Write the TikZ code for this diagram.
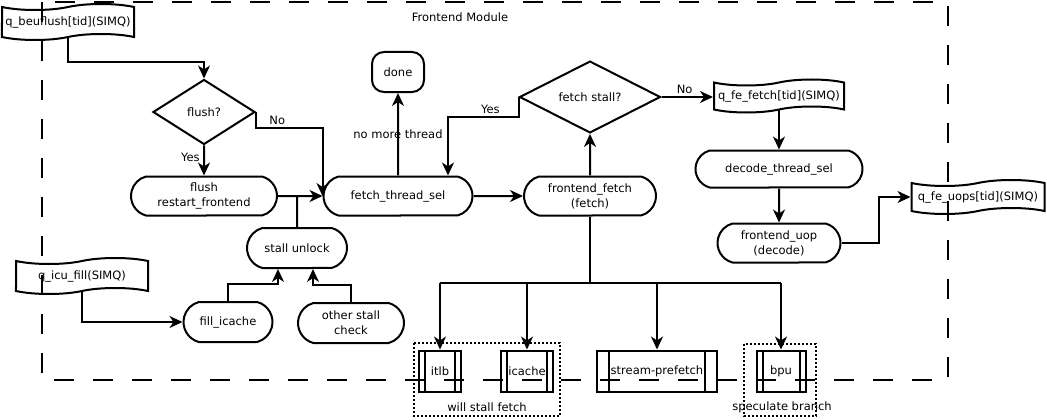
\documentclass[tikz,border=0pt]{standalone}
\usepackage{fontspec}
\setmainfont{DejaVu Sans}
\usepackage{tikz}
\usetikzlibrary{shapes.misc, shapes.symbols, shapes.geometric, arrows.meta, positioning}

\tikzset{
	flow/.style = {line width=2pt, -{Stealth[length=13pt, width=12pt, inset=4pt]}},
	link/.style = {line width=2pt},
	term/.style = {draw, line width=2pt, fill=white, rounded rectangle, rounded rectangle arc length=150, minimum height=39pt, inner sep=1pt, align=center},
	queue/.style = {draw, line width=2pt, fill=white, tape, tape bend height=6pt, minimum height=36pt, inner sep=1pt},
	decision/.style = {draw, line width=2pt, fill=white, diamond, inner sep=0pt},
	subproc/.style = {draw, line width=2pt, fill=white, minimum height=41pt, inner sep=0pt, path picture={
		\draw[line width=2pt] ([xshift=#1]path picture bounding box.north west) -- ([xshift=#1]path picture bounding box.south west)
			([xshift=-#1]path picture bounding box.north east) -- ([xshift=-#1]path picture bounding box.south east);}},
	subproc/.default = 6pt,
	group/.style = {draw, line width=2pt, dotted},
	frame/.style = {draw, line width=2pt, dash pattern=on 20pt off 19pt}
}

\begin{document}
\begin{tikzpicture}[x=1pt, y=-1pt, font=\fontsize{11.5}{15}\selectfont]
		\useasboundingbox (0, 0) rectangle (1047, 420);

		\node[queue, minimum width=132pt] (qbeu) at (68, 22) {q\_beuflush[tid](SIMQ)};
		\node[decision, minimum width=102pt, minimum height=65pt] (flushq) at (204, 112) {flush?};
		\node[term, minimum width=148pt] (flushrst) at (204, 196) {flush\\restart\_frontend};
		\node[term, minimum width=102pt, minimum height=40pt] (stallun) at (297, 248) {stall unlock};
		\node[queue, minimum width=132pt] (qicu) at (82, 276) {q\_icu\_fill(SIMQ)};
		\node[term, minimum width=91pt, minimum height=40pt] (fillic) at (228, 322) {fill\_icache};
		\node[term, minimum width=108pt, minimum height=40pt] (otherst) at (351, 323) {other stall\\check};
		\node[term, minimum width=151pt] (ftsel) at (398, 196) {fetch\_thread\_sel};
		\node[draw, line width=2pt, rounded corners=12pt, minimum width=52pt, minimum height=40pt] (done) at (398, 72) {done};
		\node[decision, minimum width=141pt, minimum height=71pt] (fstall) at (590, 97) {fetch stall?};
		\node[term, minimum width=134pt] (ffetch) at (590, 196) {frontend\_fetch\\(fetch)};
		\node[queue, minimum width=130pt, minimum height=33pt] (qfefetch) at (779, 96) {q\_fe\_fetch[tid](SIMQ)};
		\node[term, minimum width=169pt, minimum height=37pt] (dtsel) at (779, 169) {decode\_thread\_sel};
		\node[term, minimum width=125pt] (fuop) at (779, 243) {frontend\_uop\\(decode)};
		\node[queue, minimum width=133pt, minimum height=34pt] (qfeuops) at (978, 197) {q\_fe\_uops[tid](SIMQ)};

		\node[subproc, minimum width=42pt] (itlb) at (440, 371) {itlb};
		\node[subproc, minimum width=52pt] (icache) at (527, 371) {icache};
		\node[subproc=12pt, minimum width=120pt] (spref) at (657, 371) {stream-prefetch};
		\node[subproc, minimum width=49pt] (bpu) at (781, 371) {bpu};
		\draw[group] (414, 343) rectangle (560, 416);
		\draw[group] (744, 344) rectangle (816, 416);
		\node (stalllbl) at (487, 407) {will stall fetch};
		\node (speclbl) at (782, 407) {speculate branch};

		\draw[flow] (qbeu.south) -- (qbeu.south |- 0, 62) -| (flushq.north);
		\draw[flow] (flushq) -- node[left, pos=0.4] {Yes} (flushrst);
		\draw[flow] (flushq.east) -- (flushq.east |- 0, 128) -| node[pos=0.16, above=-1pt] {No} (ftsel.west);
		\draw[flow] (flushrst) -- (ftsel);
		\draw[link] (stallun) -- (stallun.north |- flushrst.east);
		\draw[flow] (qicu.south) |- (fillic.west);
		\draw[flow] (fillic.north) -- ++(0, -17) -| ([xshift=-19pt]stallun.south);
		\draw[flow] (otherst.north) -- ++(0, -17) -| ([xshift=16pt]stallun.south);
		\draw[flow] (ftsel) -- node {no more thread} (done);
		\draw[flow] (ftsel) -- (ffetch);
		\draw[flow] (ffetch) -- (fstall);
		\draw[flow] (fstall.west) -- (fstall.west |- 0, 117) -| node[pos=0.2, above=-1pt] {Yes} ([xshift=50pt]ftsel.north);
		\draw[flow] (fstall.east) -- node[above=-1pt, pos=0.45] {No} (fstall.east -| qfefetch.west);
		\draw[flow] (qfefetch.south) -- (qfefetch.south |- dtsel.north);
		\draw[flow] (dtsel) -- (fuop);
		\draw[flow] (fuop.east) -- ++(37, 0) |- (qfeuops.west);

		\coordinate (bus) at (0, 283);
		\draw[link] (ffetch.south) -- (ffetch.south |- bus);
		\draw[link] (itlb.north |- bus) -- (bpu.north |- bus);
		\foreach \blk in {itlb, icache, spref, bpu}
			\draw[flow] (\blk.north |- bus) -- (\blk.north);

		\draw[frame] (42, 2) rectangle (948, 380);
		\node (modlbl) at (460, 17) {Frontend Module};
		\end{tikzpicture}
\end{document}
